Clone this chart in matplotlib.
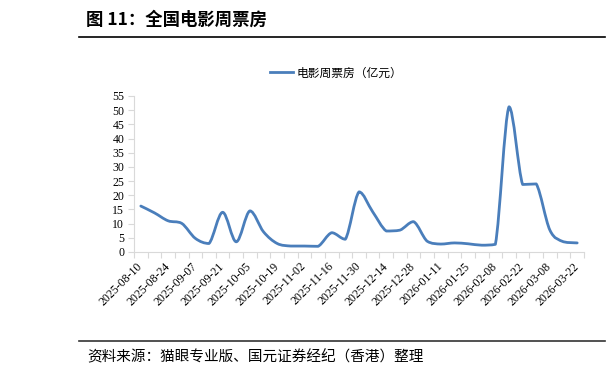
import matplotlib
matplotlib.use("Agg")
import matplotlib.pyplot as plt
from matplotlib.path import Path
from matplotlib.patches import PathPatch
from matplotlib.lines import Line2D
import numpy as np
import pandas as pd

# weekly box office, 100m yuan
weeks = pd.date_range("2025-08-10", periods=33, freq="7D").strftime("%Y-%m-%d").tolist()
box_office = [16.2, 13.8, 11.0, 10.1, 4.8, 3.0, 14.0, 3.6, 14.5, 7.1,
              3.0, 2.1, 2.1, 2.0, 6.8, 4.5, 21.2, 14.2, 7.4, 7.7,
              10.7, 3.8, 2.8, 3.2, 2.9, 2.4, 2.7, 51.2, 23.8, 24.0,
              7.7, 3.6, 3.2]
yticks = list(range(0, 56, 5))

BLUE = "#4a7ebb"
GREY = "#d9d9d9"
CJK = ["Noto Sans CJK SC", "DejaVu Sans"]
NUM = "Liberation Serif"

W, H = 611, 376
fig = plt.figure(figsize=(W / 100, H / 100), dpi=100)
ax = fig.add_axes([134 / W, 1 - 252 / H, 450 / W, 156 / H])
ax.set_xlim(-0.5, len(weeks) - 0.5)
ax.set_ylim(0, 55)


def smooth_path(ax, xs, ys):
    # excel-like smoothed line: catmull-rom bezier in display space,
    # control points kept inside each segment's y range (no overshoot)
    disp = ax.transData.transform(np.column_stack([xs, ys]))
    n = len(disp)
    verts = [disp[0]]
    codes = [Path.MOVETO]
    for i in range(n - 1):
        p0 = disp[max(i - 1, 0)]
        p1, p2 = disp[i], disp[i + 1]
        p3 = disp[min(i + 2, n - 1)]
        c1 = p1 + (p2 - p0) / 6
        c2 = p2 - (p3 - p1) / 6
        lo, hi = min(p1[1], p2[1]), max(p1[1], p2[1])
        c1[1] = np.clip(c1[1], lo, hi)
        c2[1] = np.clip(c2[1], lo, hi)
        verts += [c1, c2, p2]
        codes += [Path.CURVE4] * 3
    verts = ax.transData.inverted().transform(np.array(verts))
    return Path(verts, codes)


x = np.arange(len(weeks))
ax.add_patch(PathPatch(smooth_path(ax, x, box_office), fill=False,
                       edgecolor=BLUE, lw=2.0, capstyle="round", joinstyle="round"))

ax.set_yticks(yticks)
ax.set_yticklabels([str(v) for v in yticks], fontname=NUM, fontsize=8.5)

ax.set_xticks(np.arange(-0.5, len(weeks), 1.0))
ax.set_xticklabels([])
ax.set_xticks(x[::2], minor=True)
ax.set_xticklabels(weeks[::2], minor=True, rotation=45, ha="right", va="center",
                   rotation_mode="anchor", fontname=NUM, fontsize=8.5)
ax.tick_params(axis="x", which="minor", length=0, pad=9)
ax.tick_params(axis="x", which="major", length=4, color=GREY, width=0.8)
ax.tick_params(axis="y", length=4, color=GREY, width=0.8, pad=3)

for side in ["top", "right"]:
    ax.spines[side].set_visible(False)
for side in ["left", "bottom"]:
    ax.spines[side].set_color(GREY)
    ax.spines[side].set_linewidth(0.8)

handle = Line2D([], [], color=BLUE, lw=2.0)
fig.legend([handle], ["电影周票房（亿元）"], loc="center",
           bbox_to_anchor=(336 / W, 1 - 73 / H), frameon=False,
           prop={"family": CJK, "size": 8.5}, handlelength=1.9, handletextpad=0.3)

fig.text(86 / W, 1 - 20 / H, "图 11：全国电影周票房", family=CJK, fontsize=12.5,
         fontweight="bold", ha="left", va="center")
fig.add_artist(Line2D([79 / W, 605 / W], [1 - 37 / H, 1 - 37 / H], color="black", lw=1.2))
fig.add_artist(Line2D([79 / W, 605 / W], [1 - 341 / H, 1 - 341 / H], color="#333333", lw=1.2))
fig.text(87 / W, 1 - 357 / H, "资料来源：猫眼专业版、国元证券经纪（香港）整理", family=CJK,
         fontsize=10.5, ha="left", va="center")

fig.savefig("out.png", dpi=100)
